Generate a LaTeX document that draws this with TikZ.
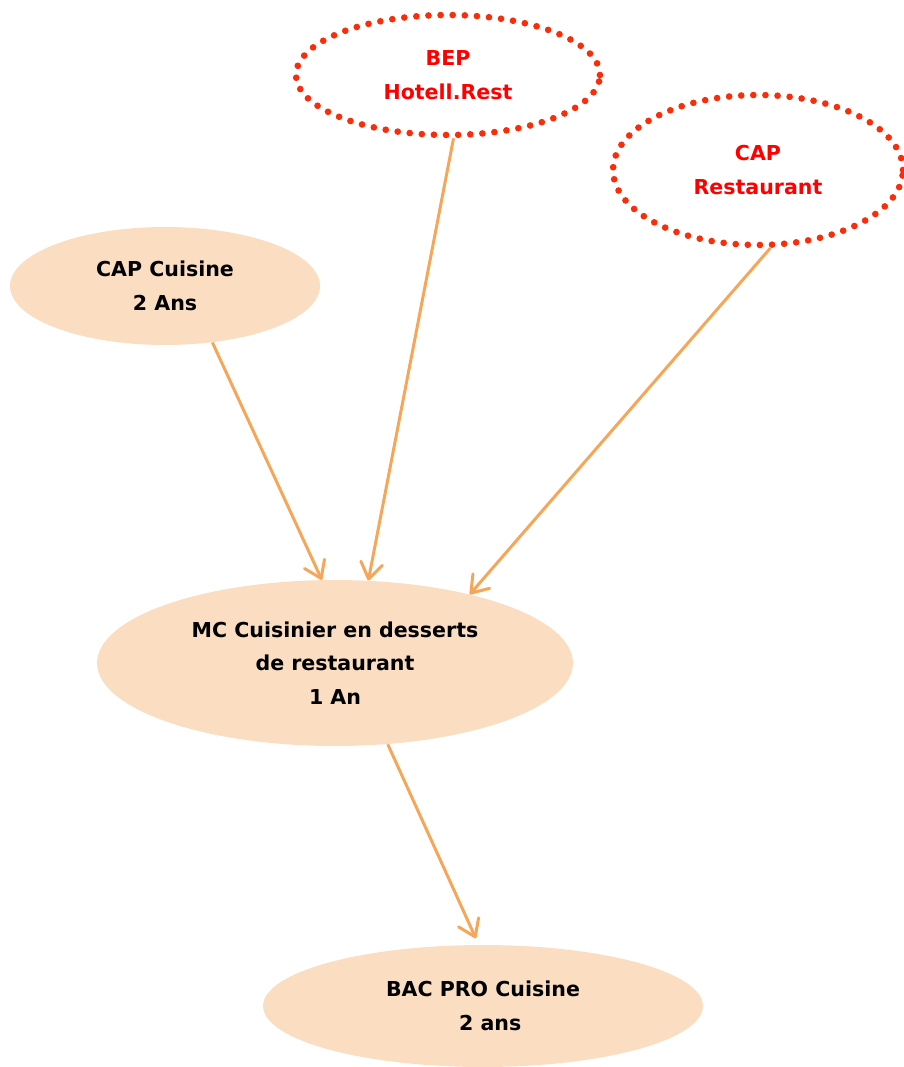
\documentclass[tikz,border=0pt]{standalone}
\usepackage{fontspec}
\setmainfont{DejaVu Sans}
\usetikzlibrary{shapes.geometric, arrows.meta}
\definecolor{coursecol}{RGB}{251,221,194}
\definecolor{arrowcol}{RGB}{246,166,88}
\definecolor{dotcol}{RGB}{250,45,10}
\definecolor{accesstext}{RGB}{255,0,0}

\begin{document}
\begin{tikzpicture}[
			x=0.02cm,
			y=-0.02cm,
			course/.style={
				ellipse,
				fill=coursecol,
				inner sep=0pt,
				align=center,
				font=\bfseries\fontsize{11.7}{19.2}\selectfont
			},
			access/.style={
				ellipse,
				draw=dotcol,
				line width=3.8pt,
				line cap=round,
				dash pattern=on 0pt off 6.9pt,
				inner sep=0pt,
				align=center,
				text=accesstext,
				font=\bfseries\fontsize{11.7}{19.6}\selectfont
			},
			every edge/.style={
				draw=arrowcol,
				-{Straight Barb[length=3.2mm,width=4.4mm,round]},
				line width=1.7pt
			}
			]
			\useasboundingbox (0,0) rectangle (903,1067);
			
			% Formations
			\node[access, minimum width=6.08cm, minimum height=2.4cm] (bep) at (448,75) {BEP\\Hotell.Rest};
			\node[access, minimum width=5.8cm, minimum height=3cm] (caprest) at (758,170) {CAP\\Restaurant};
			\node[course, minimum width=6.2cm, minimum height=2.36cm] (capcuis) at (165,286) {CAP Cuisine\\2 Ans};
			\node[course, minimum width=9.52cm, minimum height=3.32cm] (mc) at (335,663) {MC Cuisinier en desserts\\de restaurant\\1 An};
			\node[course, minimum width=8.8cm, minimum height=2.44cm] (bac) at (483,1006) {BAC PRO Cuisine\\\ \ 2 ans};
			
			% Passerelles
			\path
			(capcuis.-50) edge (mc.99)
			(bep.-85) edge (mc.68)
			(caprest.-81) edge (mc.27)
			(mc.-57) edge[shorten >=4pt] (bac.94);
		\end{tikzpicture}
\end{document}
